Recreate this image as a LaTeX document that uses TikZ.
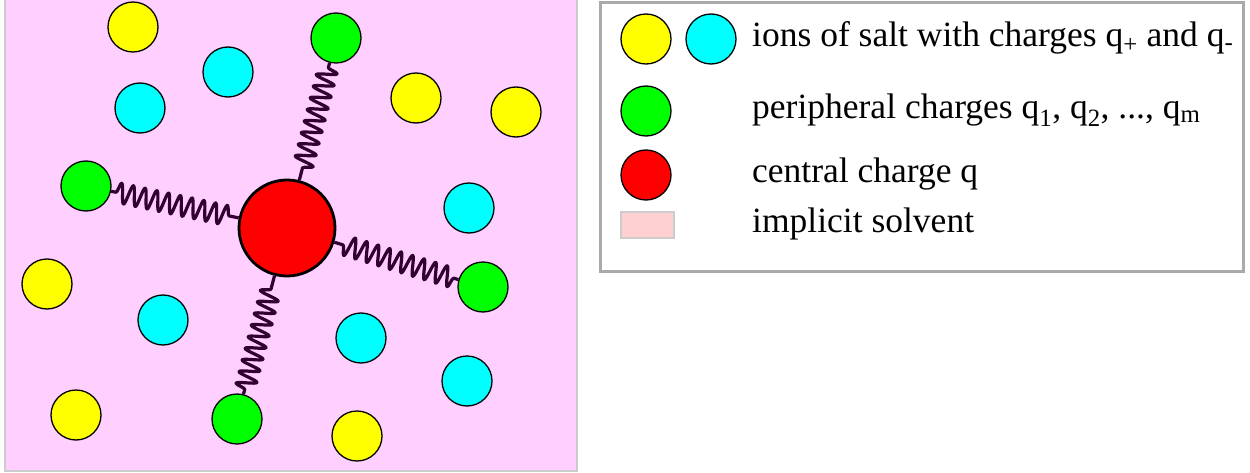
\documentclass[tikz,border=0pt]{standalone}
\usepackage{fontspec}
\setmainfont{Liberation Serif}
\usetikzlibrary{decorations.pathmorphing}
\definecolor{panelpink}{RGB}{255,208,255}
\definecolor{panelborder}{RGB}{204,204,204}
\definecolor{legendborder}{RGB}{170,170,170}
\definecolor{solventpink}{RGB}{255,208,208}
\definecolor{springc}{RGB}{51,0,51}
\definecolor{ionyellow}{RGB}{255,255,0}
\definecolor{ioncyan}{RGB}{0,255,255}
\definecolor{iongreen}{RGB}{0,255,0}
\definecolor{ionred}{RGB}{255,0,0}
\tikzset{
  ion/.style={circle, draw=black, line width=1.3pt, minimum size=50pt, inner sep=0pt},
  posion/.style={ion, fill=ionyellow},
  negion/.style={ion, fill=ioncyan},
  periph/.style={ion, fill=iongreen},
  redion/.style={ion, fill=ionred},
  central/.style={circle, draw=black, line width=2.8pt, minimum size=96pt, inner sep=0pt, fill=ionred},
  spring/.style={draw=springc, line width=3.2pt, line join=round, decorate,
    decoration={snake, segment length=12pt, amplitude=10pt, pre length=5pt, post length=8pt}},
  legtext/.style={anchor=base west, inner sep=0pt, font=\fontsize{35.5pt}{42pt}\selectfont}
}
\begin{document}
\begin{tikzpicture}[x=1pt,y=-1pt]
\useasboundingbox (0,0) rectangle (1250,473);
% panel
\draw[fill=panelpink, draw=panelborder, line width=2pt] (5,-3) rectangle (577,471);
% salt ions
\node[posion] (y1) at (133,27) {};
\node[posion] (y2) at (416,98) {};
\node[posion] (y3) at (516,112) {};
\node[posion] (y4) at (47,284) {};
\node[posion] (y5) at (76,415) {};
\node[posion] (y6) at (357,436) {};
\node[negion] (c1) at (228,72) {};
\node[negion] (c2) at (140,108) {};
\node[negion] (c3) at (469,208) {};
\node[negion] (c4) at (163,320) {};
\node[negion] (c5) at (361,338) {};
\node[negion] (c6) at (467,381) {};
% peripheral and central
\node[periph] (g1) at (336,38) {};
\node[periph] (g2) at (86,186) {};
\node[periph] (g3) at (483,287) {};
\node[periph] (g4) at (237,419) {};
\node[central] (q) at (287,228) {};
\draw[spring] (g1) -- (q);
\draw[spring] (g2) -- (q);
\draw[spring] (g3) -- (q);
\draw[spring] (g4) -- (q);
% legend
\draw[draw=legendborder, line width=3pt] (600,3) rectangle (1243,271);
\node[posion] (ly) at (646,39) {};
\node[negion] (lc) at (711,39) {};
\node[periph] (lg) at (646,111) {};
\node[redion] (lr) at (646,175) {};
\node[draw=panelborder, fill=solventpink, line width=2pt, minimum width=53pt, minimum height=25pt, inner sep=0pt] (ls) at (647.5,225) {};
\node[legtext] (t1) at (752,47) {ions of salt with charges q\textsubscript{+} and q\textsubscript{-}};
\node[legtext] (t2) at (752,119) {peripheral charges q\textsubscript{1}, q\textsubscript{2}, ..., q\textsubscript{m}};
\node[legtext] (t3) at (752,183) {central charge q};
\node[legtext] (t4) at (752,233) {implicit solvent};
\end{tikzpicture}
\end{document}
